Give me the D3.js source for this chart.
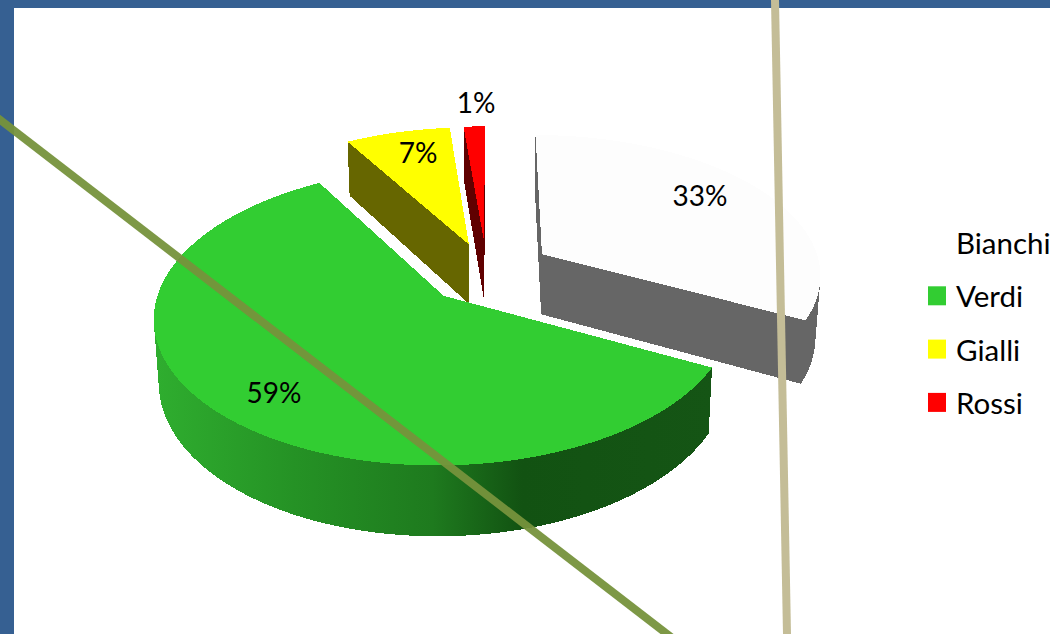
<!DOCTYPE html>
<html>
<head>
<meta charset="utf-8">
<script src="https://cdnjs.cloudflare.com/ajax/libs/d3/7.8.5/d3.min.js"></script>
<style>
body { margin: 0; background: #fff; overflow: hidden; }
text { font-family: Lato, "Open Sans", sans-serif; fill: #000; }
</style>
</head>
<body>
<svg id="chart" width="1050" height="634"></svg>
<script>
"use strict";
var categories = ["Bianchi", "Verdi", "Gialli", "Rossi"];
var values = [32.6, 59, 7, 1.4];
var topColors = ["#fdfdfd", "#32cd32", "#ffff00", "#ff0000"];
var wallColors = ["#666666", "url(#greenWall)", "#666600", "#600000"];
// extra pull of each slice on top of the normal explosion
var nudgeU = [0.012, 0, 0, 0];
var nudgeV = [0.022, 0, 0, 0];

var width = 1050, height = 634;
var svg = d3.select("#chart");

// projection of the pie plane, far side is smaller
var cx = 487, cy = 273;
var sx = 280, sy = 140, persp = 0.135;
var wallH = 61, wallPersp = 0.12, wallShrink = 0.985;
var explode = 0.22;

function project(u, v, low) {
	var w = 1 + persp * v;
	var x = sx * u / w;
	var y = -sy * v / w;
	if (low) {
		x = x * wallShrink;
		y = y + wallH / (1 + wallPersp * v);
	}
	return [cx + x, cy + y];
}

var pie = d3.pie().sort(null).startAngle(0).endAngle(2 * Math.PI);
var arcs = pie(values);
var line = d3.line();

// page background
svg.append("rect").attr("width", width).attr("height", height).attr("fill", "#366092");
svg.append("rect").attr("x", 14).attr("y", 8).attr("width", width - 14).attr("height", height - 8).attr("fill", "#fff");

var defs = svg.append("defs");
var grad = defs.append("linearGradient")
	.attr("id", "greenWall")
	.attr("gradientUnits", "userSpaceOnUse")
	.attr("x1", 154).attr("x2", 712).attr("y1", 0).attr("y2", 0);
[[0, "#2fae2f"], [0.25, "#259225"], [0.5, "#1e7a1e"], [0.66, "#125212"], [1, "#155515"]].forEach(function(s) {
	grad.append("stop").attr("offset", s[0]).attr("stop-color", s[1]);
});

// centre of a slice after it is pulled out
function offset(d) {
	var mid = (d.startAngle + d.endAngle) / 2;
	return [explode * Math.sin(mid) + nudgeU[d.index], explode * Math.cos(mid) + nudgeV[d.index]];
}

// points along the rim of one slice
function rim(d, low) {
	var o = offset(d);
	var n = Math.ceil((d.endAngle - d.startAngle) / 0.01);
	return d3.range(n + 1).map(function(i) {
		var a = d.startAngle + (d.endAngle - d.startAngle) * i / n;
		return project(o[0] + Math.sin(a), o[1] + Math.cos(a), low);
	});
}

function apex(d, low) {
	var o = offset(d);
	return project(o[0], o[1], low);
}

// far slices first
var order = [3, 2, 0, 1];
var slices = svg.append("g").attr("shape-rendering", "crispEdges");
order.forEach(function(i) {
	var d = arcs[i];
	var g = slices.append("g");
	var t = rim(d, false), b = rim(d, true);
	// walls: outline is a hull, a slice over 180 degrees is not convex so do its rim in two halves
	var parts = [];
	if (d.endAngle - d.startAngle > Math.PI) {
		var m = Math.floor(t.length / 2);
		parts.push(t.slice(0, m + 1).concat(b.slice(0, m + 1)));
		parts.push(t.slice(m).concat(b.slice(m)));
	} else {
		parts.push(t.concat(b, [apex(d, false), apex(d, true)]));
	}
	parts.forEach(function(p) {
		g.append("path")
			.attr("d", line(d3.polygonHull(p)) + "Z")
			.attr("fill", wallColors[i]);
	});
	// top face
	g.append("path")
		.attr("d", line([apex(d, false)].concat(t)) + "Z")
		.attr("fill", topColors[i]);
});

// data labels
var labelX = [700, 274, 418, 476];
var labelY = [206, 403, 163, 113];
var pct = d3.format(".0f");
svg.append("g").selectAll("text")
	.data(values)
	.enter()
	.append("text")
	.attr("x", function(d, i) { return labelX[i]; })
	.attr("y", function(d, i) { return labelY[i]; })
	.attr("text-anchor", "middle")
	.attr("font-size", 28)
	.text(function(d) { return pct(d) + "%"; });

// legend
var legend = svg.append("g").selectAll("g")
	.data(categories)
	.enter()
	.append("g")
	.attr("transform", function(d, i) { return "translate(928," + (233 + i * 53.3) + ")"; });
legend.append("rect")
	.attr("width", 18)
	.attr("height", 19)
	.attr("fill", function(d, i) { return i == 0 ? "#fff" : topColors[i]; });
legend.append("text")
	.attr("x", 28)
	.attr("y", 21)
	.attr("font-size", 29.5)
	.text(function(d) { return d; });

// the two lines drawn over the chart
svg.append("line").attr("x1", -10).attr("y1", 112).attr("x2", 680).attr("y2", 644)
	.attr("stroke", "#76923c").attr("stroke-width", 8).attr("stroke-opacity", 0.95);
svg.append("line").attr("x1", 775).attr("y1", 0).attr("x2", 787).attr("y2", 634)
	.attr("stroke", "#c4bd97").attr("stroke-width", 8);
</script>
</body>
</html>
